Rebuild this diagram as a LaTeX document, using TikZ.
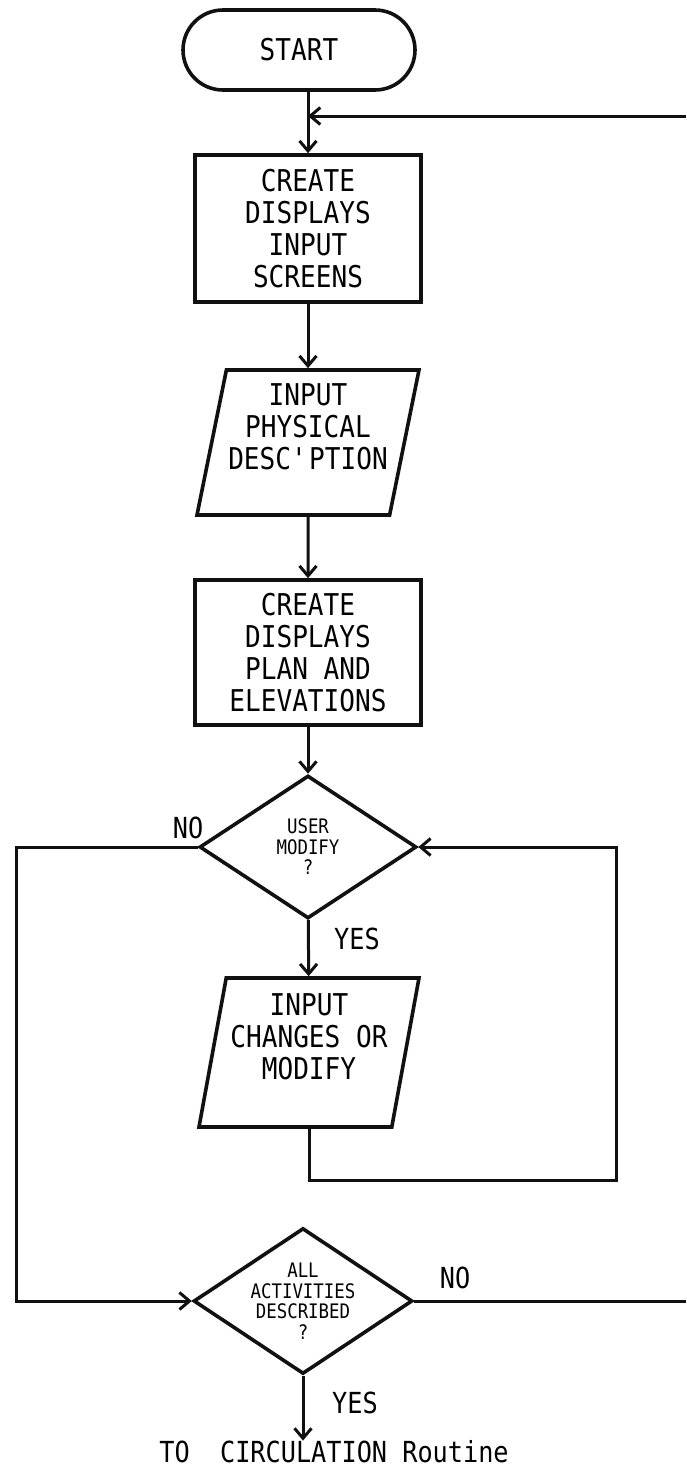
\documentclass[tikz,border=0pt]{standalone}
\usepackage{fontspec}
\setmainfont[FakeStretch=0.87]{DejaVu Sans Mono}
\usetikzlibrary{arrows.meta,shapes.geometric}
\definecolor{Ink}{HTML}{111111}
\tikzset{
  terminal/.style={draw=Ink,line width=3.6pt,rounded corners=40pt,minimum width=232pt,minimum height=80pt,inner sep=0pt,font=\fontsize{30}{32}\selectfont},
  box/.style={draw=Ink,line width=3.6pt,minimum width=226pt,align=center,inner sep=0pt,font=\fontsize{30}{32}\selectfont},
  iobox/.style={draw=Ink,line width=3.6pt,trapezium,trapezium stretches body,align=center,inner sep=0pt,font=\fontsize{30}{32}\selectfont},
  decision/.style={draw=Ink,line width=3.6pt,diamond,aspect=1.5,inner sep=0pt,align=center,font=\fontsize{20}{20.5}\selectfont},
  tag/.style={inner sep=0pt,font=\fontsize{29}{31}\selectfont},
  flow/.style={-{Straight Barb[length=10pt,width=17pt]},draw=Ink,line width=3pt},
  plainline/.style={draw=Ink,line width=3pt}
}
\begin{document}
\begin{tikzpicture}[x=1pt,y=-1pt]
      \useasboundingbox (0,0) rectangle (686,1470);
      \node[terminal] (start) at (299,50) {START};
      \node[box,minimum height=147pt] (screens) at (308,228.5) {CREATE\\DISPLAYS\\INPUT\\SCREENS};
      \node[iobox,trapezium left angle=76,trapezium right angle=104,minimum width=222pt,minimum height=145pt] (physical) at (308,442.5) {INPUT\\PHYSICAL\\DESC\textquotesingle PTION\\\mbox{}};
      \node[box,minimum height=145pt] (plan) at (308,652.5) {CREATE\\DISPLAYS\\PLAN AND\\ELEVATIONS};
      \node[decision,minimum width=217pt,minimum height=143pt] (modify) at (308,847) {USER\\MODIFY\\?};
      \node[iobox,trapezium left angle=77,trapezium right angle=103,minimum width=220pt,minimum height=149pt] (changes) at (309,1052.5) {INPUT\\CHANGES OR\\MODIFY\\\mbox{}};
      \node[decision,minimum width=211pt,minimum height=142pt] (described) at (303,1301) {ALL\\ACTIVITIES\\DESCRIBED\\?};
      \node[tag] (toroutine) at (334,1452) {TO~~CIRCULATION Routine};
      % branch labels
      \node[tag] (modifyno) at (188,828) {NO};
      \node[tag] (modifyyes) at (357,939) {YES};
      \node[tag] (describedno) at (455,1278) {NO};
      \node[tag] (describedyes) at (355,1403) {YES};
      % loop rails
      \coordinate (leftrail) at (16,0);
      \coordinate (rightrail) at (616,1180);
      \coordinate (backin) at (686,116);
      \coordinate (backout) at (686,1301);
      \draw[flow] (start.south -| screens.north) -- (screens.north);
      \draw[flow] (backin) -- (backin -| screens.north);
      \draw[flow] (screens) -- (physical);
      \draw[flow] (physical) -- (plan);
      \draw[flow] (plan) -- (modify);
      \draw[flow] (modify) -- (changes);
      \draw[flow] (changes.south) |- (rightrail) |- (modify.east);
      \draw[flow] (modify.west) -- (modify.west -| leftrail) -- (described.west -| leftrail) -- (described.west);
      \draw[plainline] (described.east) -- (described.east -| backout);
      \draw[flow] (described.south) -- (described.south |- toroutine.north);
    \end{tikzpicture}
\end{document}
